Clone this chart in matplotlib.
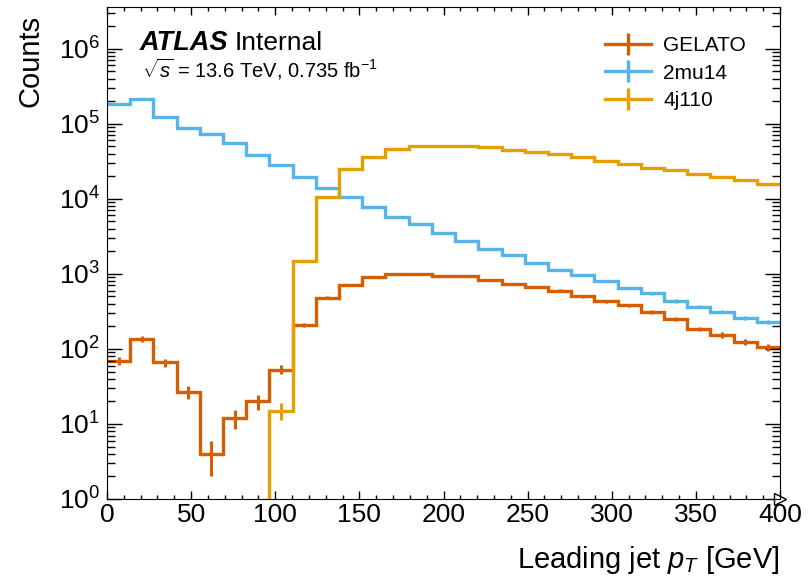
import numpy as np
import matplotlib
matplotlib.use('Agg')
import matplotlib.pyplot as plt
from matplotlib.lines import Line2D
from matplotlib.ticker import MultipleLocator, LogLocator, NullFormatter

plt.rcParams['font.family'] = ['Liberation Sans', 'DejaVu Sans']
plt.rcParams['mathtext.fontset'] = 'custom'
plt.rcParams['mathtext.rm'] = 'Liberation Sans'
plt.rcParams['mathtext.it'] = 'Liberation Sans:italic'
plt.rcParams['mathtext.bf'] = 'Liberation Sans:bold'

# 29 bins, 0-400 GeV
edges = np.linspace(0, 400, 30)

gelato = [69, 137, 66, 27, 4, 12, 20, 53, 208, 480, 710, 910, 990, 1000, 935,
          935, 830, 740, 665, 600, 500, 430, 380, 310, 250, 185, 154, 125, 105]
mu14 = [1.85e5, 2.15e5, 1.25e5, 8.7e4, 7.4e4, 5.5e4, 3.8e4, 2.8e4, 1.97e4,
        1.41e4, 1.07e4, 7.8e3, 5.8e3, 4.65e3, 3.55e3, 2.77e3, 2.14e3, 1.79e3,
        1.38e3, 1.13e3, 975, 810, 645, 550, 435, 365, 315, 257, 228]
j110 = [0, 0, 0, 0, 0, 0, 0, 15, 1.5e3, 1.07e4, 2.5e4, 3.6e4, 4.6e4, 5.0e4,
        5.1e4, 5.1e4, 4.9e4, 4.45e4, 4.2e4, 3.95e4, 3.6e4, 3.2e4, 2.93e4,
        2.6e4, 2.39e4, 2.14e4, 1.95e4, 1.77e4, 1.58e4]

names = ['GELATO', '2mu14', '4j110']
colors = ['#D55E00', '#56B4E9', '#E69F00']

fig = plt.figure(figsize=(8.1, 5.77), dpi=100)
ax = fig.add_axes([107/810, 1 - 499/577, (780-107)/810, (499-7)/577])
ax.set_yscale('log')

centers = 0.5 * (edges[1:] + edges[:-1])
handles = []
for vals, name, c in zip([gelato, mu14, j110], names, colors):
    v = np.array(vals, dtype=float)
    ax.stairs(v, edges, color=c, lw=2.4, baseline=None)
    m = v > 0
    ax.errorbar(centers[m], v[m], yerr=np.sqrt(v[m]), fmt='none',
                ecolor=c, elinewidth=2.2)
    handles.append(Line2D([], [], color=c, lw=2.4, marker='|', markersize=16,
                          markeredgewidth=2.4))

ax.set_xlim(0, 400)
ax.set_ylim(1, 3.6e6)

ax.xaxis.set_major_locator(MultipleLocator(50))
ax.xaxis.set_minor_locator(MultipleLocator(10))
ax.yaxis.set_major_locator(LogLocator(base=10, numticks=20))
ax.yaxis.set_minor_locator(LogLocator(base=10, subs=np.arange(2, 10), numticks=20))
ax.yaxis.set_minor_formatter(NullFormatter())
ax.tick_params(which='both', direction='in', top=True, right=True, labelsize=19)
ax.tick_params(axis='y', which='major', length=11, width=1, pad=5)
ax.tick_params(axis='y', which='minor', length=6, width=1)
ax.tick_params(axis='x', which='major', length=5.5, width=1, pad=3)
ax.tick_params(axis='x', which='minor', length=3, width=1)

ax.set_xlabel(r'Leading jet $p_T$ [GeV]', fontsize=21, ha='right', x=1.0, labelpad=12)
ax.set_ylabel('Counts', fontsize=21, ha='right', y=0.985, labelpad=10)

ax.text(0.049, 0.912, 'ATLAS', transform=ax.transAxes, fontsize=19.5,
        fontweight='bold', style='italic', va='baseline')
ax.text(0.19, 0.912, 'Internal', transform=ax.transAxes, fontsize=19, va='baseline')
ax.text(0.052, 0.856, r'$\sqrt{s}$ = 13.6 TeV, 0.735 fb$^{-1}$',
        transform=ax.transAxes, fontsize=14.5, va='baseline')

ax.legend(handles, names, loc='upper left', frameon=False, fontsize=15,
          handlelength=2.2, handletextpad=0.6, labelspacing=0.42,
          borderpad=0, borderaxespad=0,
          bbox_to_anchor=((605 - 107) / 673, (499 - 36) / 492))

ax.plot([1.0], [0.0], marker='>', markersize=9, markerfacecolor='white',
        markeredgecolor='black', transform=ax.transAxes, clip_on=False)

fig.savefig('out.png', dpi=100)
